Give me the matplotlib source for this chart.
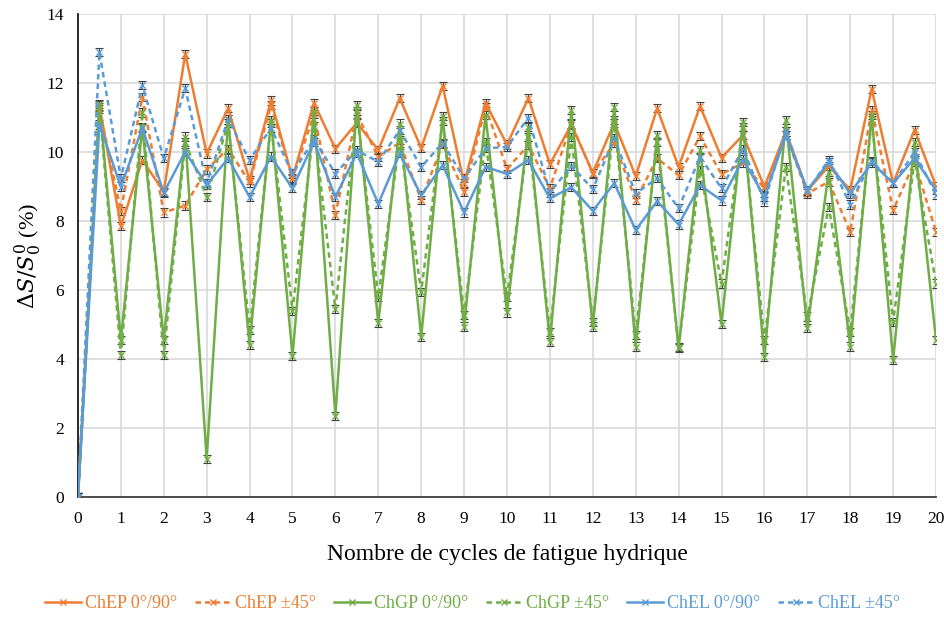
import matplotlib.pyplot as plt
import numpy as np

# cycles de fatigue hydrique (demi-cycles)
cycles = np.arange(0, 20.5, 0.5)

chep_0_90 = [0, 11.35, 7.85, 9.77, 8.85, 12.85, 9.96, 11.27, 9.19, 11.5, 9.25,
             11.43, 10.1, 10.85, 10.06, 11.56, 10.12, 11.92, 9.1, 11.43, 10.22,
             11.57, 9.65, 10.8, 9.4, 10.85, 9.3, 11.27, 9.57, 11.33, 9.84,
             10.49, 8.99, 10.6, 8.88, 9.6, 8.9, 11.83, 9.1, 10.64, 9.02]
chep_45 = [0, 11.25, 8.3, 11.6, 8.25, 8.45, 9.5, 10.1, 9.12, 11.36, 9.22,
           11.1, 8.18, 11.1, 9.86, 10.28, 8.61, 10.23, 8.85, 11.3, 9.52,
           10.2, 8.95, 10.83, 9.38, 10.26, 8.61, 9.82, 9.33, 10.46, 9.36,
           9.69, 8.95, 10.5, 8.8, 9.14, 7.69, 11.22, 8.32, 9.72, 7.69]
chgp_0_90 = [0, 11.4, 4.55, 10.73, 4.55, 10.45, 1.1, 10.95, 4.41, 10.93, 4.09,
             11.2, 2.35, 11.36, 5.04, 10.83, 4.64, 11.05, 4.94, 11.07, 5.35,
             10.73, 4.5, 11.22, 4.94, 11.3, 4.36, 10.49, 4.31, 10.06, 5.02,
             10.88, 4.05, 10.93, 4.89, 9.43, 4.36, 11.07, 3.97, 10.3, 4.55]
chgp_45 = [0, 11.3, 4.12, 11.15, 4.12, 10.3, 8.7, 10.85, 4.85, 10.85, 5.4,
           10.75, 5.45, 11.2, 5.81, 10.35, 5.95, 10.9, 5.27, 10.3, 5.8,
           10.44, 4.79, 10.44, 5.08, 10.93, 4.7, 10.3, 4.35, 9.48, 6.19,
           10.73, 4.55, 9.57, 5.23, 8.41, 4.79, 10.93, 5.08, 9.77, 6.19]
chel_0_90 = [0, 10.8, 9.0, 10.7, 8.82, 10.01, 9.05, 9.82, 8.7, 9.87, 8.95,
             10.3, 8.7, 9.97, 8.5, 9.97, 8.75, 9.62, 8.25, 9.57, 9.37,
             9.77, 8.66, 8.98, 8.3, 9.1, 7.74, 8.58, 7.9, 9.04, 8.6,
             9.8, 8.7, 10.5, 8.9, 9.7, 8.8, 9.7, 9.1, 9.82, 8.9]
chel_45 = [0, 12.9, 9.24, 11.94, 9.82, 11.85, 9.1, 10.95, 9.77, 10.7, 9.38,
           10.37, 9.38, 10.05, 9.72, 10.64, 9.57, 10.27, 9.24, 10.11, 10.15,
           11.0, 8.83, 9.6, 8.93, 10.4, 8.8, 9.24, 8.37, 9.86, 8.95,
           10.1, 8.57, 10.6, 8.86, 9.78, 8.48, 9.75, 9.1, 10.0, 8.77]

# ecarts-types (petits, quasi constants)
err = 0.12

labels = ['ChEP 0°/90°', 'ChEP ±45°', 'ChGP 0°/90°', 'ChGP ±45°', 'ChEL 0°/90°', 'ChEL ±45°']
orange, green, blue = '#ED7D31', '#70AD47', '#5B9BD5'
series = [
    (chep_0_90, orange, '-'),
    (chep_45, orange, '--'),
    (chgp_0_90, green, '-'),
    (chgp_45, green, '--'),
    (chel_0_90, blue, '-'),
    (chel_45, blue, '--'),
]

plt.rcParams['font.family'] = ['Liberation Serif', 'DejaVu Serif']
plt.rcParams['mathtext.fontset'] = 'dejavuserif'

fig = plt.figure(figsize=(9.45, 6.17), dpi=100)
ax = fig.add_axes([0.0825, 0.1945, 0.908, 0.7825])

handles = []
for (vals, color, ls), lab in zip(series, labels):
    ax.errorbar(cycles, vals, yerr=err, fmt='none', ecolor='#404040',
                elinewidth=0.8, capsize=3, capthick=0.8, zorder=2)
    h, = ax.plot(cycles, vals, color=color, lw=1.8, marker='x',
                 markersize=5, markeredgewidth=1.0, label=lab, zorder=3)
    if ls == '--':
        h.set_dashes((2.2, 1.6))
    handles.append(h)

ax.set_xlim(0, 20)
ax.set_ylim(0, 14)
ax.set_xticks(np.arange(0, 21, 1))
ax.set_yticks(np.arange(0, 15, 2))
ax.grid(True, color='#D9D9D9', lw=1.2)
ax.set_axisbelow(True)
ax.tick_params(length=0, labelsize=12.5, pad=10)
for s in ['top', 'right']:
    ax.spines[s].set_visible(False)
ax.spines['left'].set_color('#1a1a1a')
ax.spines['bottom'].set_color('#404040')
ax.spines['left'].set_linewidth(1.3)
ax.spines['bottom'].set_linewidth(1.3)

ax.set_xlabel('Nombre de cycles de fatigue hydrique', fontsize=17, labelpad=12)
ax.set_ylabel(r'$\Delta S/S_0^0$ (%)', fontsize=16, labelpad=2)

leg = fig.legend(handles=handles, loc='center', bbox_to_anchor=(0.5, 0.022),
                 ncol=6, frameon=False, fontsize=13, handlelength=2.0,
                 columnspacing=1.0, handletextpad=0.2)
for txt, (vals, color, ls) in zip(leg.get_texts(), series):
    txt.set_color(color)

fig.savefig('out.png', dpi=100)
